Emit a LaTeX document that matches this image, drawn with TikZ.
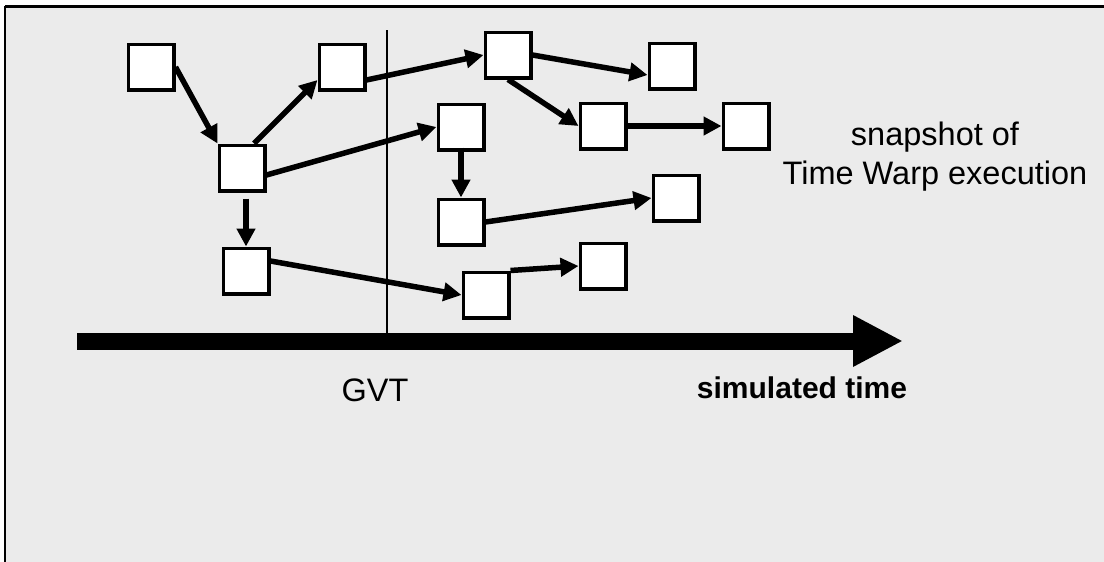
\documentclass[tikz,border=0pt]{standalone}
\usepackage{fontspec}
\setmainfont{Liberation Sans}
\usetikzlibrary{arrows.meta}
\tikzset{
  evbox/.style={draw=black, line width=3.5pt, fill=white, minimum size=45.5pt, inner sep=0pt},
  msg/.style={line width=5.5pt, -{Triangle[length=18pt,width=18pt]}},
  lbl/.style={font=\fontsize{32.5}{39}\selectfont, inner sep=0pt},
}
\begin{document}
\begin{tikzpicture}[x=1pt,y=-1pt]
\useasboundingbox (0,0) rectangle (1104,562);
% background and frame
\fill[black!8] (5,6) rectangle (1104,562);
\draw[line width=3pt] (5,6) -- (1104,6);
\draw[line width=2.5pt] (5,6) -- (5,562);
% GVT line and time axis
\coordinate (gtop) at (387,30);
\coordinate (tstart) at (77,341);
\coordinate (tend) at (903,341);
\draw[line width=2.2pt] (gtop) -- (gtop |- tstart);
\draw[line width=17pt, -{Triangle[length=50pt,width=48pt]}] (tstart) -- (tend);
% events
\node[evbox] (B1) at (151,67) {};
\node[evbox] (B2) at (342,67) {};
\node[evbox] (B3) at (242,168) {};
\node[evbox] (B4) at (246,271) {};
\node[evbox] (B5) at (508,55) {};
\node[evbox] (B6) at (461,127) {};
\node[evbox] (B7) at (461,222) {};
\node[evbox] (B8) at (486,295) {};
\node[evbox] (B9) at (672,66) {};
\node[evbox] (B10) at (603,126) {};
\node[evbox] (B11) at (746,126) {};
\node[evbox] (B12) at (676,198) {};
\node[evbox] (B13) at (603,266) {};
% messages
\draw[msg] (B1.east) -- (B3.north west);
\draw[msg] ([xshift=12pt]B3.north) -- ([yshift=-13pt]B2.west);
\draw[msg] ([yshift=-13pt]B2.east) -- (B5.west);
\draw[msg] ([yshift=-7pt]B3.east) -- (B6.west);
\draw[msg, shorten <=6pt] (B3.south -| B4.north) -- (B4.north);
\draw[msg] ([yshift=10pt]B4.east) -- (B8.west);
\draw[msg, shorten <=-4pt] (B6.south) -- (B7.north);
\draw[msg] (B5.east) -- ([yshift=-9pt]B9.west);
\draw[msg] (B5.south) -- (B10.west);
\draw[msg] (B10.east) -- (B11.west);
\draw[msg] (B7.east) -- (B12.west);
\draw[msg] (B8.north east) -- (B13.west);
% labels
\node[lbl, align=center] (snap) at (935,157) {snapshot of\\Time Warp execution};
\node[lbl] (gvt) at (375,390) {GVT};
\node[lbl, font=\fontsize{30}{38}\selectfont\bfseries] (simt) at (802,388) {simulated time};
\end{tikzpicture}
\end{document}
